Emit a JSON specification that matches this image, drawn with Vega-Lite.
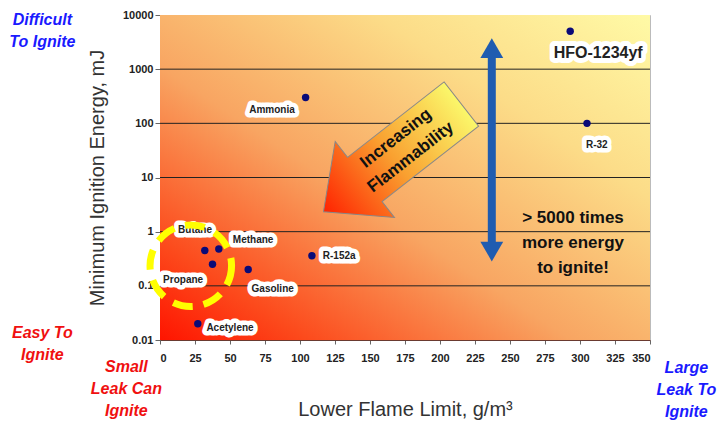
{
  "$schema": "https://vega.github.io/schema/vega-lite/v6.json",
  "width": 490,
  "height": 325,
  "autosize": "none",
  "padding": {"left": 160, "top": 15, "right": 68, "bottom": 84},
  "background": "white",
  "config": {"view": {"stroke": "#bbbbbb"}, "font": "Liberation Sans"},
  "datasets": {
    "pts": [
      {"name": "Acetylene", "x": 27, "y": 0.02},
      {"name": "Butane", "x": 32, "y": 0.45},
      {"name": "Methane", "x": 42, "y": 0.48},
      {"name": "Propane", "x": 37.5, "y": 0.25},
      {"name": "Gasoline", "x": 63, "y": 0.2},
      {"name": "R-152a", "x": 108.5, "y": 0.36},
      {"name": "Ammonia", "x": 104, "y": 300},
      {"name": "R-32", "x": 305, "y": 100},
      {"name": "HFO-1234yf", "x": 293, "y": 5000}
    ],
    "labels": [
      {"name": "Acetylene", "x": 50, "y": 0.0166},
      {"name": "Butane", "x": 25, "y": 1.09},
      {"name": "Methane", "x": 66.5, "y": 0.71},
      {"name": "Propane", "x": 16.5, "y": 0.13},
      {"name": "Gasoline", "x": 80.5, "y": 0.087},
      {"name": "R-152a", "x": 128, "y": 0.36},
      {"name": "Ammonia", "x": 80, "y": 180},
      {"name": "R-32", "x": 312, "y": 39}
    ],
    "notes": [
      {"text": "Difficult\nTo Ignite", "kind": "hard", "x": -84, "y": 8100},
      {"text": "Easy To\nIgnite", "kind": "easy", "x": -84, "y": 0.0135},
      {"text": "Small\nLeak Can\nIgnite", "kind": "easy", "x": -24, "y": 0.0032},
      {"text": "Large\nLeak To\nIgnite", "kind": "hard", "x": 376, "y": 0.00305}
    ]
  },
  "encoding": {
    "x": {
      "field": "x", "type": "quantitative",
      "scale": {"domain": [0, 350], "nice": false, "zero": false},
      "axis": {
        "title": "Lower Flame Limit, g/m³",
        "values": [0, 25, 50, 75, 100, 125, 150, 175, 200, 225, 250, 275, 300, 325, 350],
        "grid": false,
        "labelFont": "Liberation Sans", "labelFontWeight": "bold", "labelFontSize": 11, "labelColor": "#222",
        "labelPadding": 8, "tickSize": 4, "tickColor": "#666", "domainColor": "#6a3a30",
        "titleFont": "Liberation Sans", "titleFontSize": 20, "titleFontWeight": "normal", "titleColor": "#333",
        "titlePadding": 36
      }
    },
    "y": {
      "field": "y", "type": "quantitative",
      "scale": {"type": "log", "domain": [0.01, 10000], "nice": false},
      "axis": {
        "title": "Minimum Ignition Energy, mJ",
        "values": [0.01, 0.1, 1, 10, 100, 1000, 10000],
        "format": "~g",
        "grid": false,
        "labelFont": "Liberation Sans", "labelFontWeight": "bold", "labelFontSize": 11, "labelColor": "#222",
        "tickSize": 5, "tickColor": "#666", "domainColor": "#555",
        "titleFont": "Liberation Sans", "titleFontSize": 20, "titleFontWeight": "normal", "titleColor": "#333",
        "titlePadding": 15
      }
    }
  },
  "layer": [
    {
      "data": {"values": [{"x": 0, "x2": 350, "y": 0.01, "y2": 10000}]},
      "mark": {
        "type": "rect",
        "color": {
          "gradient": "linear", "x1": 0, "y1": 1, "x2": 1, "y2": 0,
          "stops": [
            {"offset": 0, "color": "#ff1400"},
            {"offset": 0.15, "color": "#fc4a1c"},
            {"offset": 0.42, "color": "#f8a562"},
            {"offset": 0.72, "color": "#fcdc88"},
            {"offset": 1, "color": "#fffaa6"}
          ]
        }
      },
      "encoding": {"x2": {"field": "x2"}, "y2": {"field": "y2"}}
    },
    {
      "data": {"values": [
        {"x": 0, "x2": 350, "y": 0.1},
        {"x": 0, "x2": 350, "y": 1},
        {"x": 0, "x2": 350, "y": 10},
        {"x": 0, "x2": 350, "y": 100},
        {"x": 0, "x2": 350, "y": 1000}
      ]},
      "mark": {"type": "rule", "color": "#222", "strokeWidth": 1},
      "encoding": {"x2": {"field": "x2"}}
    },
    {
      "data": {"values": [{"x": 237, "y": 2450, "y2": 0.43}]},
      "mark": {"type": "rule", "color": "#1f5cb0", "strokeWidth": 8},
      "encoding": {"y2": {"field": "y2"}}
    },
    {
      "data": {"values": [{"x": 237, "y": 2450}]},
      "mark": {"type": "point", "shape": "triangle-up", "filled": true, "color": "#1f5cb0", "opacity": 1, "size": 520}
    },
    {
      "data": {"values": [{"x": 237, "y": 0.43}]},
      "mark": {"type": "point", "shape": "triangle-down", "filled": true, "color": "#1f5cb0", "opacity": 1, "size": 520}
    },
    {
      "data": {"values": [{"x": 166, "y": 23}]},
      "mark": {
        "type": "point",
        "shape": "M-1,0L-0.4,-0.55L-0.4,-0.32L1,-0.32L1,0.32L-0.4,0.32L-0.4,0.55Z",
        "size": 30625, "angle": -38, "opacity": 1,
        "fill": {
          "gradient": "linear", "x1": 0, "y1": 0, "x2": 1, "y2": 0,
          "stops": [
            {"offset": 0, "color": "#ff2200"},
            {"offset": 0.5, "color": "#f9a030"},
            {"offset": 1, "color": "#fbf76a"}
          ]
        },
        "stroke": "#888", "strokeWidth": 1
      }
    },
    {
      "data": {"values": [{"x": 168.5, "y": 53, "text": "Increasing\nFlammability"}]},
      "mark": {"type": "text", "angle": -38, "lineBreak": "\n", "fontSize": 17, "fontWeight": "bold", "lineHeight": 24, "color": "#111", "align": "center", "baseline": "middle"},
      "encoding": {"text": {"field": "text"}}
    },
    {
      "data": {"values": [{"x": 295, "y": 1.79, "text": "> 5000 times\nmore energy\nto ignite!"}]},
      "mark": {"type": "text", "lineBreak": "\n", "fontSize": 17, "fontWeight": "bold", "lineHeight": 25, "color": "#111", "align": "center", "baseline": "middle"},
      "encoding": {"text": {"field": "text"}}
    },
    {
      "data": {"name": "pts"},
      "mark": {"type": "point", "shape": "circle", "filled": true, "color": "#0a0a78", "opacity": 1, "size": 55}
    },
    {
      "data": {"name": "labels"},
      "mark": {"type": "text", "fontSize": 10, "fontWeight": "bold", "fill": "white", "stroke": "white", "strokeWidth": 9, "strokeJoin": "round", "align": "center", "baseline": "middle"},
      "encoding": {"text": {"field": "name"}}
    },
    {
      "data": {"name": "labels"},
      "mark": {"type": "text", "fontSize": 10, "fontWeight": "bold", "color": "#222", "align": "center", "baseline": "middle"},
      "encoding": {"text": {"field": "name"}}
    },
    {
      "data": {"values": [{"x": 313, "y": 2000, "name": "HFO-1234yf"}]},
      "mark": {"type": "text", "fontSize": 16, "fontWeight": "bold", "fill": "white", "stroke": "white", "strokeWidth": 10, "strokeJoin": "round", "align": "center", "baseline": "middle"},
      "encoding": {"text": {"field": "name"}}
    },
    {
      "data": {"values": [{"x": 313, "y": 2000, "name": "HFO-1234yf"}]},
      "mark": {"type": "text", "fontSize": 16, "fontWeight": "bold", "color": "#222", "align": "center", "baseline": "middle"},
      "encoding": {"text": {"field": "name"}}
    },
    {
      "data": {"values": [{"x": 22, "y": 0.235}]},
      "mark": {"type": "point", "shape": "circle", "filled": false, "size": 6650, "stroke": "#ffff00", "strokeWidth": 7, "strokeDash": [20, 11], "opacity": 1}
    },
    {
      "data": {"name": "notes"},
      "mark": {"type": "text", "lineBreak": "\n", "fontSize": 16, "fontWeight": "bold", "fontStyle": "italic", "lineHeight": 22, "align": "center", "baseline": "middle"},
      "encoding": {
        "text": {"field": "text"},
        "color": {"field": "kind", "type": "nominal", "scale": {"domain": ["hard", "easy"], "range": ["#1a1aff", "#f01010"]}, "legend": null}
      }
    }
  ]
}
